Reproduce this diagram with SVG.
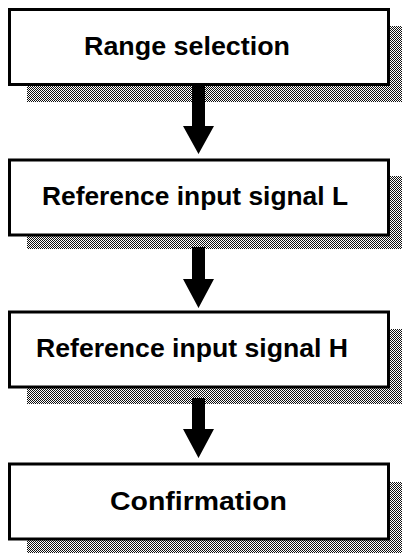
<svg xmlns="http://www.w3.org/2000/svg" width="402" height="553" viewBox="0 0 402 553">
<defs>
<pattern id="dither" width="2" height="2" patternUnits="userSpaceOnUse">
<rect width="2" height="2" fill="#ffffff"/>
<rect x="0" y="0" width="1" height="1" fill="#111"/>
<rect x="1" y="1" width="1" height="1" fill="#111"/>
</pattern>
<style>
.shadow{fill:url(#dither);}
.box{fill:#fff;stroke:#000;stroke-width:3;}
.lbl{font-family:"Liberation Sans",Arial,sans-serif;font-weight:bold;font-size:25px;fill:#000;}
.arrow{fill:#000;}
</style>
</defs>
<rect width="402" height="553" fill="#fff"/>
<g id="node1">
<rect class="shadow" x="27" y="26" width="375" height="76"/>
<rect class="box" x="9.5" y="9.5" width="379" height="75"/>
<text class="lbl" x="84" y="55" textLength="206" lengthAdjust="spacingAndGlyphs">Range selection</text>
</g>
<g id="node2">
<rect class="shadow" x="27" y="176" width="375" height="73"/>
<rect class="box" x="9.5" y="160" width="379" height="75"/>
<text class="lbl" x="42" y="205" textLength="306" lengthAdjust="spacingAndGlyphs">Reference input signal L</text>
</g>
<g id="node3">
<rect class="shadow" x="27" y="329" width="375" height="75"/>
<rect class="box" x="9.5" y="312" width="379" height="75"/>
<text class="lbl" x="36" y="357" textLength="312" lengthAdjust="spacingAndGlyphs">Reference input signal H</text>
</g>
<g id="node4">
<rect class="shadow" x="27" y="482" width="375" height="71"/>
<rect class="box" x="9.5" y="464" width="379" height="75"/>
<text class="lbl" x="110" y="510" textLength="177" lengthAdjust="spacingAndGlyphs">Confirmation</text>
</g>
<g id="connectors">
<polygon class="arrow" points="192,86 205,86 205,126 214,126 198.5,154 183,126 192,126"/>
<polygon class="arrow" points="192,247 205,247 205,279 214,279 198.5,308 183,279 192,279"/>
<polygon class="arrow" points="192,398 205,398 205,429 214,429 198.5,458 183,429 192,429"/>
</g>
</svg>
